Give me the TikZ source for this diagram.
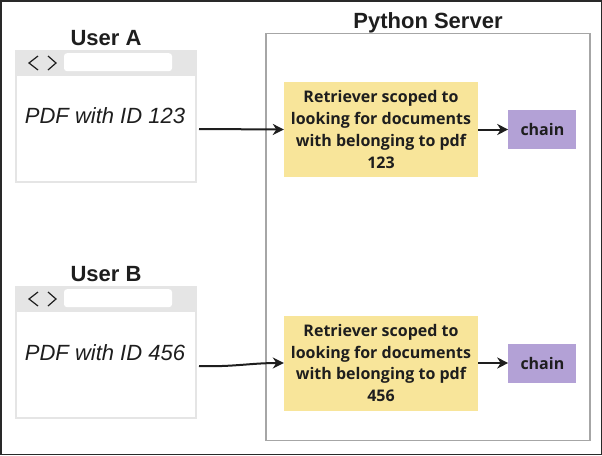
\documentclass[tikz,border=0pt]{standalone}
\usepackage{fontspec}
\setmainfont{Liberation Sans}
\newfontfamily\boxfont{Open Sans}
\usepackage{tikz}
\usetikzlibrary{arrows.meta,positioning}
\definecolor{pale}{RGB}{248,229,154}
\definecolor{lilac}{RGB}{179,161,214}
\definecolor{ink}{RGB}{30,30,30}
\tikzset{
    %Define standard arrow tip
    >={Stealth[length=11pt,width=11pt,inset=3.5pt]},
    %Define style for browser windows
    browser/.style={
           rectangle,
           draw=gray!20, line width=2pt,
           minimum width=180pt,
           minimum height=130pt,
           fill=white},
    topbar/.style={
           rectangle,
           fill=gray!20,
           inner sep=0pt,
           minimum width=182pt,
           minimum height=26pt},
    urlbar/.style={
           rectangle,
           rounded corners=3pt,
           fill=white,
           inner sep=0pt,
           minimum width=108pt,
           minimum height=18pt},
    %Define style for texts
    heading/.style={
           font=\fontsize{22}{26}\selectfont\bfseries,
           text=ink,
           anchor=base},
    pdftext/.style={
           font=\fontsize{22}{26}\selectfont\itshape,
           text=ink,
           anchor=base},
    %Define style for boxes
    server/.style={
           rectangle,
           draw=gray!70, line width=1.2pt,
           minimum width=324pt,
           minimum height=407pt},
    retriever/.style={
           rectangle,
           fill=pale,
           inner sep=0pt,
           minimum width=194pt,
           minimum height=95pt,
           align=center,
           font=\boxfont\bfseries\fontsize{16}{21.7}\selectfont,
           text=ink},
    chainbox/.style={
           rectangle,
           fill=lilac,
           inner sep=0pt,
           minimum width=68pt,
           minimum height=39pt,
           font=\boxfont\bfseries\fontsize{16}{18}\selectfont,
           text=ink},
    % Define arrow style
    flow/.style={
           ->,
           draw=ink,
           line width=2pt},
    chevron/.style={
           draw=ink,
           line width=1.2pt}
}
\begin{document}
\begin{tikzpicture}[x=1pt,y=-1pt,node distance=30pt]
\useasboundingbox (0,0) rectangle (602,455);
\draw[ink!95, line width=1.5pt] (0.75,0.75) rectangle (601.25,454.25);
% server
\node[server] (srv) at (428,237) {};
\node[heading] (st) at (428,28) {Python Server};
% user A
\node[heading] (hua) at (106,45) {User A};
\node[browser] (ua) at (106,117) {};
\node[topbar, anchor=north] (ba) at ([yshift=1pt]ua.north) {};
\node[urlbar] (la) at ([xshift=12pt,yshift=1pt]ba.center) {};
\draw[chevron] (38,56) -- (29,63) -- (38,70);
\draw[chevron] (48,56) -- (56,63) -- (48,70);
\node[pdftext] (pa) at (105,123) {PDF with ID 123};
% user B
\node[heading] (hub) at (106,281) {User B};
\node[browser] (ub) at (106,353) {};
\node[topbar, anchor=north] (bb) at ([yshift=1pt]ub.north) {};
\node[urlbar] (lb) at ([xshift=12pt,yshift=1pt]bb.center) {};
\draw[chevron] (38,292) -- (29,299) -- (38,306);
\draw[chevron] (48,292) -- (56,299) -- (48,306);
\node[pdftext] (pb) at (105,360) {PDF with ID 456};
% retrievers and chains
\node[retriever] (ra) at (381,129.5) {Retriever scoped to\\looking for documents\\with belonging to pdf\\123};
\node[chainbox, right=of ra] (ca) {chain};
\node[retriever] (rb) at (381,363) {Retriever scoped to\\looking for documents\\with belonging to pdf\\456};
\node[chainbox, right=of rb] (cb) {chain};
\draw[flow] ([xshift=2pt,yshift=-12pt]ua.east) -- (ra.west);
\draw[flow] ([xshift=2pt,yshift=-13pt]ub.east) to[out=-2,in=180] (rb.west);
\draw[flow] (ra) -- (ca);
\draw[flow] (rb) -- (cb);
\end{tikzpicture}
\end{document}
